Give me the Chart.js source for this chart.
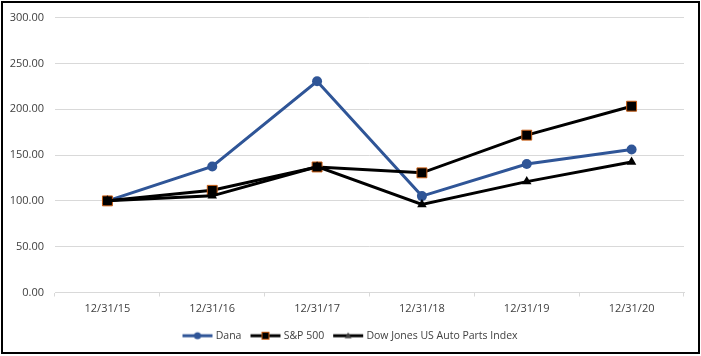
<!DOCTYPE html>
<html>
<head>
<meta charset="utf-8">
<script src="https://cdn.jsdelivr.net/npm/chart.js@4/dist/chart.umd.min.js"></script>
<style>
  html, body { margin: 0; padding: 0; background: #fff; }
  canvas { display: block; }
</style>
</head>
<body>
<canvas id="c" width="701" height="356"></canvas>
<script>
const categories = ['12/31/15', '12/31/16', '12/31/17', '12/31/18', '12/31/19', '12/31/20'];
const seriesNames = ['Dana', 'S&P 500', 'Dow Jones US Auto Parts Index'];
const danaValues = [100, 137.5, 230.5, 105.2, 140.2, 156.0];
const spValues = [100, 111.5, 137.0, 130.6, 171.7, 203.3];
const dowValues = [100, 105.5, 137.3, 96.0, 121.0, 142.5];
const yTicks = [0, 50, 100, 150, 200, 250, 300];

const FONT = '"Open Sans", "Noto Sans", sans-serif';
const TEXT = '#404040';
const GRID = '#d9d9d9';
const BLUE = '#2f5597';
const ORANGE = '#c55a11';

function legendSymbol(kind) {
  const cv = document.createElement('canvas');
  cv.width = 34; cv.height = 12;
  const g = cv.getContext('2d');
  const cy = 6, cx = 17;
  g.lineWidth = 3;
  g.strokeStyle = kind === 0 ? BLUE : '#000';
  g.beginPath(); g.moveTo(2, cy); g.lineTo(32, cy); g.stroke();
  if (kind === 0) {
    g.fillStyle = BLUE;
    g.beginPath(); g.arc(cx, cy, 3.5, 0, Math.PI * 2); g.fill();
  } else if (kind === 1) {
    g.fillStyle = '#000';
    g.fillRect(cx - 3.5, cy - 3.5, 7, 7);
    g.lineWidth = 1; g.strokeStyle = ORANGE;
    g.strokeRect(cx - 3.5, cy - 3.5, 7, 7);
  } else {
    g.fillStyle = '#404040';
    g.beginPath(); g.moveTo(cx, cy - 3.5); g.lineTo(cx + 3.5, cy + 2.5); g.lineTo(cx - 3.5, cy + 2.5); g.closePath(); g.fill();
  }
  return cv;
}
const symbols = [legendSymbol(0), legendSymbol(1), legendSymbol(2)];

const borderPlugin = {
  id: 'outerBorder',
  afterLayout(chart) {
    const lg = chart.legend;
    if (lg) { lg.left += 9; lg.right += 9; }
  },
  beforeDraw(chart) {
    const ctx = chart.ctx;
    ctx.save();
    ctx.fillStyle = '#fff';
    ctx.fillRect(0, 0, chart.width, chart.height);
    ctx.restore();
  },
  afterDraw(chart) {
    const ctx = chart.ctx;
    ctx.save();
    ctx.strokeStyle = '#000';
    ctx.lineWidth = 2;
    ctx.strokeRect(2, 2, 697, 351);
    ctx.restore();
  }
};

new Chart(document.getElementById('c'), {
  type: 'line',
  data: {
    labels: categories,
    datasets: [
      {
        label: seriesNames[0], data: danaValues, order: 2,
        borderColor: BLUE, backgroundColor: BLUE, borderWidth: 3,
        pointStyle: 'circle', pointRadius: 5, pointBackgroundColor: BLUE, pointBorderColor: BLUE, pointBorderWidth: 0,
        tension: 0
      },
      {
        label: seriesNames[1], data: spValues, order: 1,
        borderColor: '#000', backgroundColor: '#000', borderWidth: 3,
        pointStyle: 'rect', pointRadius: 7, pointBackgroundColor: '#000', pointBorderColor: ORANGE, pointBorderWidth: 1,
        tension: 0
      },
      {
        label: seriesNames[2], data: dowValues, order: 0,
        borderColor: '#000', backgroundColor: '#000', borderWidth: 3,
        pointStyle: 'triangle', pointRadius: 5.5, pointBackgroundColor: '#000', pointBorderColor: '#000', pointBorderWidth: 0,
        tension: 0
      }
    ]
  },
  options: {
    responsive: false,
    animation: false,
    devicePixelRatio: 1,
    layout: { padding: { left: 0, right: 17, top: 16, bottom: 5 } },
    plugins: {
      tooltip: { enabled: false },
      legend: {
        position: 'bottom',
        align: 'center',
        labels: {
          font: { family: FONT, size: 10.5 },
          color: TEXT,
          usePointStyle: true,
          pointStyleWidth: 26,
          padding: 11,
          sort: (a, b) => a.datasetIndex - b.datasetIndex,
          generateLabels: (chart) => chart.data.datasets.map((ds, i) => ({
            text: ds.label,
            datasetIndex: i,
            pointStyle: symbols[i],
            fillStyle: ds.borderColor,
            strokeStyle: ds.borderColor,
            lineWidth: 0,
            hidden: false,
            fontColor: TEXT
          }))
        }
      }
    },
    scales: {
      x: {
        offset: true,
        grid: { display: true, drawOnChartArea: false, drawTicks: true, tickLength: 4, color: GRID, offset: true },
        border: { display: true, color: GRID, width: 1 },
        ticks: { font: { family: FONT, size: 11 }, color: TEXT, padding: 6, maxRotation: 0 },
        afterFit: (s) => { s.height = 27; }
      },
      y: {
        min: 0, max: 300,
        afterBuildTicks: (s) => { s.ticks = yTicks.map(v => ({ value: v })); },
        grid: { color: GRID, drawTicks: false, lineWidth: 1 },
        border: { display: false },
        ticks: { font: { family: FONT, size: 11 }, color: TEXT, padding: 11, callback: (v) => Number(v).toFixed(2) },
        afterFit: (s) => { s.width = 55; }
      }
    }
  },
  plugins: [borderPlugin]
});
</script>
</body>
</html>
